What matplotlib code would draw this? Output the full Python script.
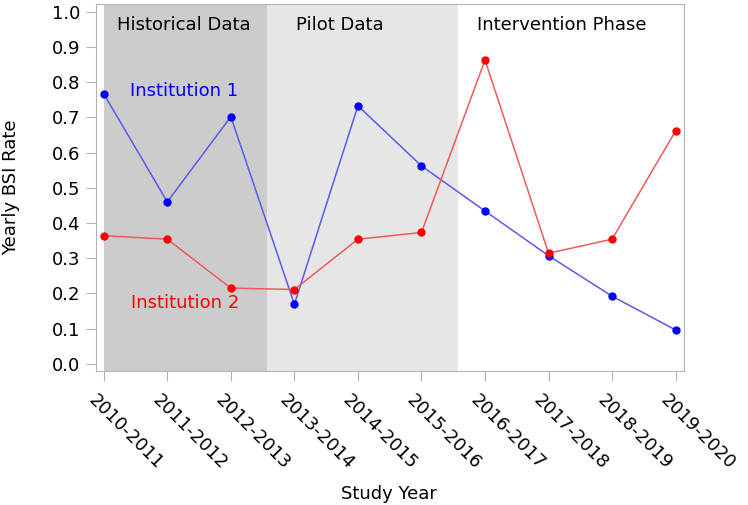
import numpy as np
import matplotlib.pyplot as plt
from matplotlib.transforms import ScaledTranslation

plt.rcParams['font.family'] = ['DejaVu Sans']

years = ['2010-2011', '2011-2012', '2012-2013', '2013-2014', '2014-2015',
         '2015-2016', '2016-2017', '2017-2018', '2018-2019', '2019-2020']
inst1 = [0.767, 0.460, 0.702, 0.169, 0.733, 0.562, 0.434, 0.307, 0.192, 0.096]
inst2 = [0.364, 0.354, 0.215, 0.211, 0.354, 0.373, 0.863, 0.314, 0.354, 0.662]
phases = ['Historical Data', 'Pilot Data', 'Intervention Phase']
phase_edges = [0, 2.57, 5.57, 9.13]

fs = 13
fig = plt.figure(figsize=(7.48, 5.05), dpi=100)
ax = fig.add_axes([0.128, 0.265, 0.786, 0.727])

x = np.arange(len(years))
# shaded phases
ax.axvspan(phase_edges[0], phase_edges[1], color='#cccccc', lw=0, zorder=0)
ax.axvspan(phase_edges[1], phase_edges[2], color='#e6e6e6', lw=0, zorder=0)

ax.plot(x, inst1, color='#5a5af0', lw=1.1, zorder=2)
ax.plot(x, inst1, 'o', color='#0000ff', ms=5, zorder=3)
ax.plot(x, inst2, color='#f05a5a', lw=1.1, zorder=2)
ax.plot(x, inst2, 'o', color='#ff0000', ms=5, zorder=3)

ax.text(1.26, 0.775, 'Institution 1', color='#0000ff', fontsize=fs, ha='center', va='center')
ax.text(1.28, 0.172, 'Institution 2', color='#ff0000', fontsize=fs, ha='center', va='center')

ax.text(1.26, 0.962, phases[0], fontsize=fs, ha='center', va='center')
ax.text(3.72, 0.962, phases[1], fontsize=fs, ha='center', va='center')
ax.text(7.2, 0.962, phases[2], fontsize=fs, ha='center', va='center')

ax.set_xlim(-0.126, 9.126)
ax.set_ylim(-0.021, 1.022)
ax.set_yticks(np.arange(0, 1.01, 0.1))
ax.set_yticklabels([f'{v:.1f}' for v in np.arange(0, 1.01, 0.1)])
ax.set_xticks(x)
ax.set_xticklabels(years, rotation=-45, ha='left', va='top', rotation_mode='anchor')

for s in ax.spines.values():
    s.set_color('#b4b4b4')
ax.tick_params(axis='both', colors='#b4b4b4', labelcolor='black', labelsize=fs, length=7)
ax.tick_params(axis='x', pad=7)
ax.tick_params(axis='y', pad=4)

# shift the rotated year labels a bit left, like the original
shift = ScaledTranslation(-6 / 100, 0, fig.dpi_scale_trans)
for lab in ax.get_xticklabels():
    lab.set_transform(lab.get_transform() + shift)

ax.set_ylabel('Yearly BSI Rate', fontsize=fs)
ax.yaxis.set_label_coords(-0.128, 0.5)
fig.text(0.52, 1 - 494 / 505, 'Study Year', fontsize=fs, ha='center', va='center')

plt.savefig('out.png')
